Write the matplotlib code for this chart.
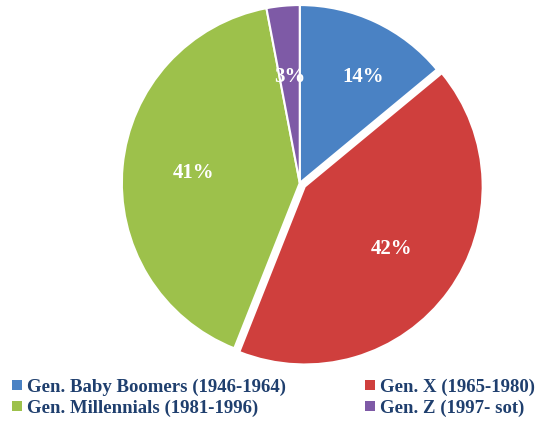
import matplotlib.pyplot as plt
from matplotlib.patches import Patch

# data
generations = ['Gen. Baby Boomers (1946-1964)', 'Gen. X (1965-1980)',
               'Gen. Millennials (1981-1996)', 'Gen. Z (1997- sot)']
shares = [14, 42, 41, 3]
colors = ['#4a82c4', '#cf3f3d', '#9dc14b', '#7e5aa6']
explode = [0, 0.035, 0, 0]

plt.rcParams['font.family'] = ['Liberation Serif', 'DejaVu Serif']

fig = plt.figure(figsize=(5.49, 4.21), dpi=100)
ax = fig.add_axes([0.222, 0.1425, 0.648, 0.846])

wedges, texts, autotexts = ax.pie(
    shares, colors=colors, explode=explode, startangle=90, counterclock=False,
    autopct='%d%%', pctdistance=0.6,
    wedgeprops=dict(edgecolor='white', linewidth=1.5),
    textprops=dict(color='white', fontsize=15, fontweight='bold'))
ax.set_xlim(-1, 1)
ax.set_ylim(-1, 1)
ax.set_aspect('equal')

# nudge the 14% label like in the original
x, y = autotexts[0].get_position()
autotexts[0].set_position((x + 0.1, y + 0.05))

# legend: two columns
order = [0, 2, 1, 3]
handles = [Patch(facecolor=colors[i], edgecolor='none') for i in order]
labels = [generations[i] for i in order]
fig.legend(handles, labels, ncol=2, loc='lower left',
           bbox_to_anchor=(-0.008, -0.03), frameon=False,
           handlelength=0.5, handleheight=0.5, handletextpad=0.3,
           columnspacing=4.2, labelspacing=0.2,
           prop=dict(size=13.5, weight='bold'), labelcolor='#1f3f6e')

fig.savefig('out.png', dpi=100)
